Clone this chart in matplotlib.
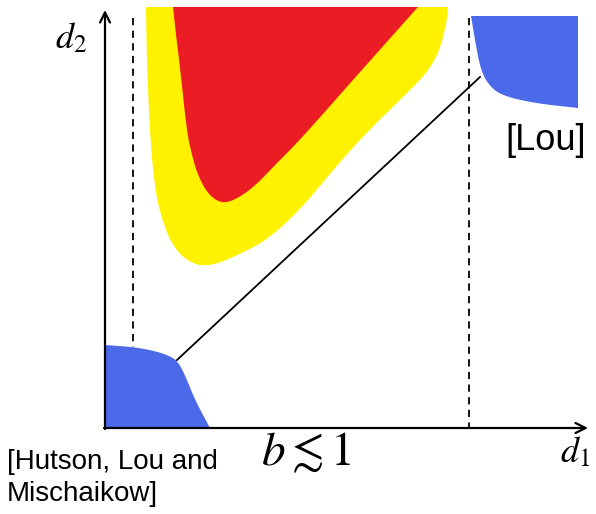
import numpy as np
import matplotlib
matplotlib.use('Agg')
import matplotlib.pyplot as plt
from matplotlib.patches import Polygon

plt.rcParams['mathtext.fontset'] = 'stix'

# 区域边界曲线 (图像像素坐标)
yellow_x = [146, 147, 150, 153, 157, 163, 170, 178, 187, 200, 217, 240, 267, 300, 333, 367, 400, 427, 440, 447, 448]
yellow_y = [7, 67, 133, 170, 200, 222, 240, 252, 260, 266, 264, 254, 240, 210, 170, 132, 100, 73, 50, 20, 7]

red_x = [173, 176, 180, 187, 192, 197, 207, 220, 233, 253, 277, 300, 360, 418]
red_y = [7, 35, 67, 133, 155, 173, 193, 203, 201, 188, 163, 140, 72, 7]

blue_low_x = [105, 133, 150, 165, 177, 185, 195, 210]
blue_low_y = [345, 347, 350, 354, 360, 375, 400, 428]

blue_up_x = [471, 475, 480, 487, 500, 533, 578]
blue_up_y = [16, 40, 67, 83, 95, 103, 108]

line_x = [177, 480]
line_y = [360, 77]

dash_left_x = 133
dash_right_x = 469


def smooth(xs, ys, n=3):
    # Chaikin 平滑, 保留端点
    p = np.column_stack([xs, ys]).astype(float)
    for _ in range(n):
        q = [p[0]]
        for a, b in zip(p[:-1], p[1:]):
            q.append(0.75 * a + 0.25 * b)
            q.append(0.25 * a + 0.75 * b)
        q.append(p[-1])
        p = np.array(q)
    return p


fig = plt.figure(figsize=(5.96, 5.14), dpi=100)
ax = fig.add_axes([0, 0, 1, 1])
ax.set_xlim(0, 596)
ax.set_ylim(514, 0)
ax.axis('off')

ax.add_patch(Polygon(smooth(yellow_x, yellow_y), closed=True, fc='#FFF200', ec='none'))
ax.add_patch(Polygon(smooth(red_x, red_y), closed=True, fc='#EC1C24', ec='none'))
low = np.vstack([smooth(blue_low_x, blue_low_y), [[105, 428]]])
ax.add_patch(Polygon(low, closed=True, fc='#4A6AEA', ec='none'))
up = np.vstack([smooth(blue_up_x, blue_up_y), [[578, 16]]])
ax.add_patch(Polygon(up, closed=True, fc='#4A6AEA', ec='none'))

# 虚线
ax.plot([dash_left_x, dash_left_x], [18, 347], color='black', lw=1.3, ls=(0, (4, 3)))
ax.plot([dash_right_x, dash_right_x], [18, 428], color='black', lw=1.3, ls=(0, (4, 3)))

# 实线
ax.plot(line_x, line_y, color='black', lw=1.3)

# 坐标轴箭头
ax.annotate('', xy=(105, 10), xytext=(105, 429),
            arrowprops=dict(arrowstyle='->', lw=1.6, color='black', mutation_scale=18, shrinkA=0, shrinkB=0))
ax.annotate('', xy=(588, 428), xytext=(104, 428),
            arrowprops=dict(arrowstyle='->', lw=1.6, color='black', mutation_scale=18, shrinkA=0, shrinkB=0))

# 文字
ax.text(55, 38, r'$d_2$', fontsize=26, ha='left', va='center')
ax.text(560, 452, r'$d_1$', fontsize=26, ha='left', va='center')
ax.text(306, 453, r'$b \lesssim 1$', fontsize=34, ha='center', va='center')
ax.text(546, 140, '[Lou]', fontsize=26, family='Liberation Sans', ha='center', va='center')
ax.text(7, 462, '[Hutson, Lou and', fontsize=20, family='Liberation Sans', ha='left', va='center')
ax.text(7, 494, 'Mischaikow]', fontsize=20, family='Liberation Sans', ha='left', va='center')

plt.savefig('out.png', dpi=100)
